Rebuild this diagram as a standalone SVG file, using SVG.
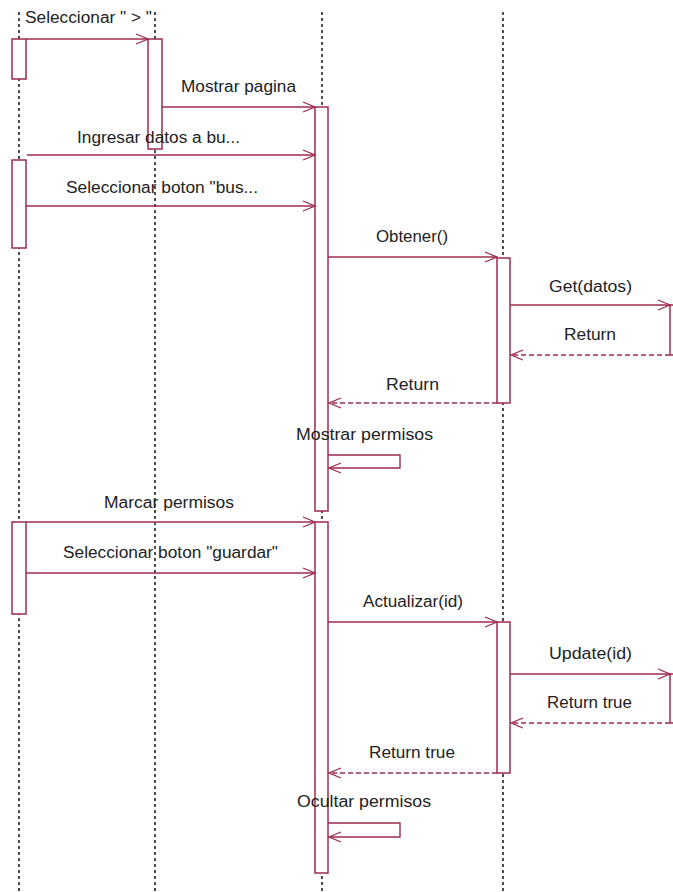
<svg xmlns="http://www.w3.org/2000/svg" width="673" height="892" viewBox="0 0 673 892">
<defs>
<marker id="ah" markerUnits="userSpaceOnUse" markerWidth="16" markerHeight="14" refX="13" refY="6" orient="auto">
<path d="M1,1 L13,6 L1,11" fill="none" stroke="#9E2B4E" stroke-width="1.3"/>
</marker>
</defs>
<style>
.life{stroke:#222;stroke-width:1.6;stroke-dasharray:3 3;fill:none}
.act{fill:#fff;stroke:#9E2B4E;stroke-width:1.5}
.msg{stroke:#9E2B4E;stroke-width:1.4;fill:none;marker-end:url(#ah)}
.ret{stroke:#9E2B4E;stroke-width:1.4;fill:none;stroke-dasharray:5 3;marker-end:url(#ah)}
.lbl{font-family:"Liberation Sans",Arial,sans-serif;font-size:16px;fill:#222}
</style>
<rect width="673" height="892" fill="#fff"/>
<g id="lifeline-1">
<line class="life" x1="19" y1="12" x2="19" y2="892"/>
<rect class="act" x="12" y="39" width="14" height="40"/>
<rect class="act" x="12" y="160" width="14" height="88"/>
<rect class="act" x="12" y="522" width="14" height="92"/>
</g>
<g id="lifeline-2">
<line class="life" x1="155" y1="12" x2="155" y2="892"/>
<rect class="act" x="148" y="39" width="14" height="110"/>
</g>
<g id="lifeline-3">
<line class="life" x1="322" y1="12" x2="322" y2="892"/>
<rect class="act" x="315" y="107" width="13" height="404"/>
<rect class="act" x="315" y="522" width="13" height="351"/>
</g>
<g id="lifeline-4">
<line class="life" x1="503" y1="12" x2="503" y2="892"/>
<rect class="act" x="497" y="258" width="13" height="145"/>
<rect class="act" x="497" y="622" width="13" height="151"/>
</g>
<g id="lifeline-5">
<rect class="act" x="670" y="305" width="14" height="50"/>
<rect class="act" x="670" y="674" width="14" height="49"/>
</g>
<g id="connectors">
<line class="msg" x1="26" y1="39" x2="148" y2="39"/>
<line class="msg" x1="162" y1="107" x2="315" y2="107"/>
<line class="msg" x1="27" y1="155" x2="315" y2="155"/>
<line class="msg" x1="26" y1="206" x2="315" y2="206"/>
<line class="msg" x1="328" y1="257" x2="497" y2="257"/>
<line class="msg" x1="510" y1="305" x2="670" y2="305"/>
<line class="ret" x1="670" y1="355" x2="511" y2="355"/>
<line class="ret" x1="497" y1="403" x2="329" y2="403"/>
<path class="msg" d="M328,455 H400 V468 H329"/>
<line class="msg" x1="26" y1="522" x2="315" y2="522"/>
<line class="msg" x1="26" y1="573" x2="315" y2="573"/>
<line class="msg" x1="328" y1="622" x2="497" y2="622"/>
<line class="msg" x1="510" y1="674" x2="670" y2="674"/>
<line class="ret" x1="670" y1="723" x2="511" y2="723"/>
<line class="ret" x1="497" y1="773" x2="329" y2="773"/>
<path class="msg" d="M328,823 H400 V837 H329"/>
</g>
<g id="labels">
<text class="lbl" x="25" y="23" textLength="127" lengthAdjust="spacingAndGlyphs">Seleccionar " &gt; "</text>
<text class="lbl" x="181" y="92" textLength="115" lengthAdjust="spacingAndGlyphs">Mostrar pagina</text>
<text class="lbl" x="77" y="143" textLength="163" lengthAdjust="spacingAndGlyphs">Ingresar datos a bu...</text>
<text class="lbl" x="66" y="193" textLength="192" lengthAdjust="spacingAndGlyphs">Seleccionar boton "bus...</text>
<text class="lbl" x="376" y="242" textLength="72" lengthAdjust="spacingAndGlyphs">Obtener()</text>
<text class="lbl" x="549" y="292" textLength="83" lengthAdjust="spacingAndGlyphs">Get(datos)</text>
<text class="lbl" x="564" y="340" textLength="52" lengthAdjust="spacingAndGlyphs">Return</text>
<text class="lbl" x="386" y="390" textLength="53" lengthAdjust="spacingAndGlyphs">Return</text>
<text class="lbl" x="296" y="440" textLength="137" lengthAdjust="spacingAndGlyphs">Mostrar permisos</text>
<text class="lbl" x="104" y="508" textLength="130" lengthAdjust="spacingAndGlyphs">Marcar permisos</text>
<text class="lbl" x="63" y="558" textLength="215" lengthAdjust="spacingAndGlyphs">Seleccionar boton "guardar"</text>
<text class="lbl" x="363" y="607" textLength="100" lengthAdjust="spacingAndGlyphs">Actualizar(id)</text>
<text class="lbl" x="549" y="659" textLength="83" lengthAdjust="spacingAndGlyphs">Update(id)</text>
<text class="lbl" x="547" y="708" textLength="85" lengthAdjust="spacingAndGlyphs">Return true</text>
<text class="lbl" x="369" y="758" textLength="86" lengthAdjust="spacingAndGlyphs">Return true</text>
<text class="lbl" x="297" y="807" textLength="134" lengthAdjust="spacingAndGlyphs">Ocultar permisos</text>
</g>
</svg>
